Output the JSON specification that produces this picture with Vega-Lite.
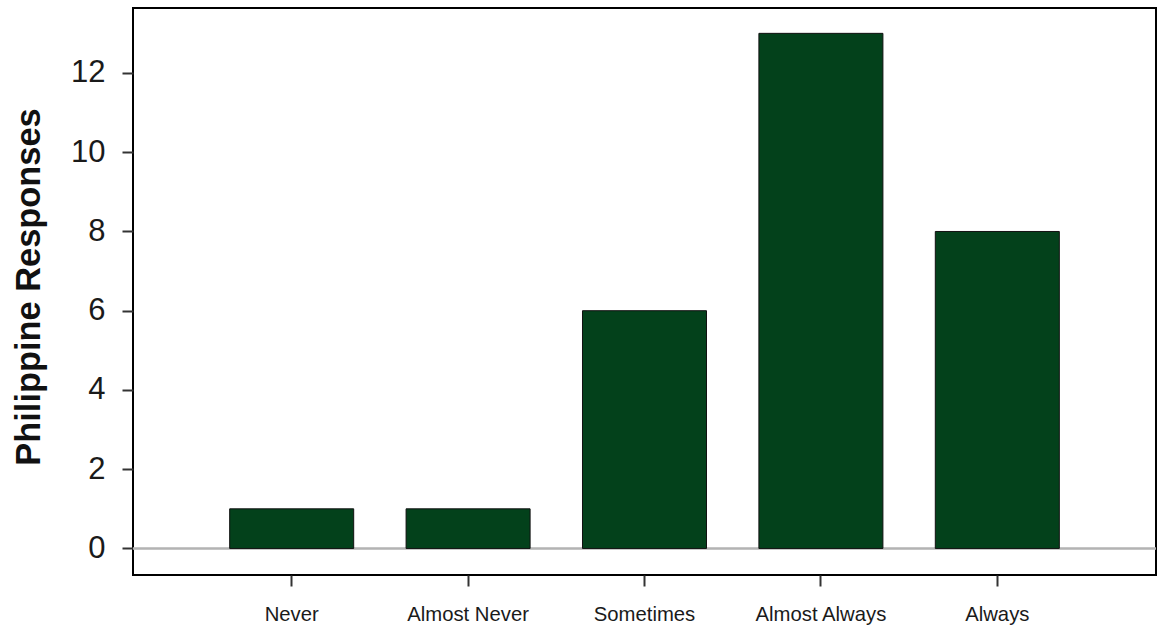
{
  "$schema": "https://vega.github.io/schema/vega-lite/v6.json",
  "autosize": "none",
  "width": 1023,
  "height": 567,
  "padding": {"left": 133, "top": 8, "right": 1, "bottom": 52},
  "config": {
    "font": "Liberation Sans",
    "view": {"stroke": "black", "strokeWidth": 2}
  },
  "data": {"values": [
    {"response": "Never", "count": 1},
    {"response": "Almost Never", "count": 1},
    {"response": "Sometimes", "count": 6},
    {"response": "Almost Always", "count": 13},
    {"response": "Always", "count": 8}
  ]},
  "layer": [
    {
      "mark": {"type": "rule", "color": "#b3b3b3", "strokeWidth": 1.5},
      "encoding": {"y": {"datum": 0, "type": "quantitative"}}
    },
    {
      "mark": {"type": "bar", "color": "#03411b", "stroke": "#111111", "strokeWidth": 1},
      "encoding": {
        "x": {
          "field": "response", "type": "nominal", "sort": null,
          "scale": {"paddingInner": 0.297, "paddingOuter": 0.548, "align": 0.5},
          "axis": {
            "title": null, "labelAngle": 0, "labelFontSize": 20.3, "labelColor": "#1a1a1a",
            "tickSize": 11, "tickWidth": 2, "tickColor": "#333333", "domain": false,
            "labelPadding": 18, "grid": false
          }
        },
        "y": {
          "field": "count", "type": "quantitative",
          "scale": {"domain": [-0.67, 13.64], "nice": false, "zero": false},
          "axis": {
            "title": "Philippine Responses", "titleFontSize": 34.4, "titleFontWeight": "bold",
            "titleColor": "#111111", "titlePadding": 24, "titleY": 278.5,
            "values": [0, 2, 4, 6, 8, 10, 12], "labelFontSize": 31, "labelColor": "#1a1a1a",
            "tickSize": 11, "tickWidth": 2, "tickColor": "#333333", "domain": false,
            "labelPadding": 17, "grid": false
          }
        }
      }
    }
  ]
}
